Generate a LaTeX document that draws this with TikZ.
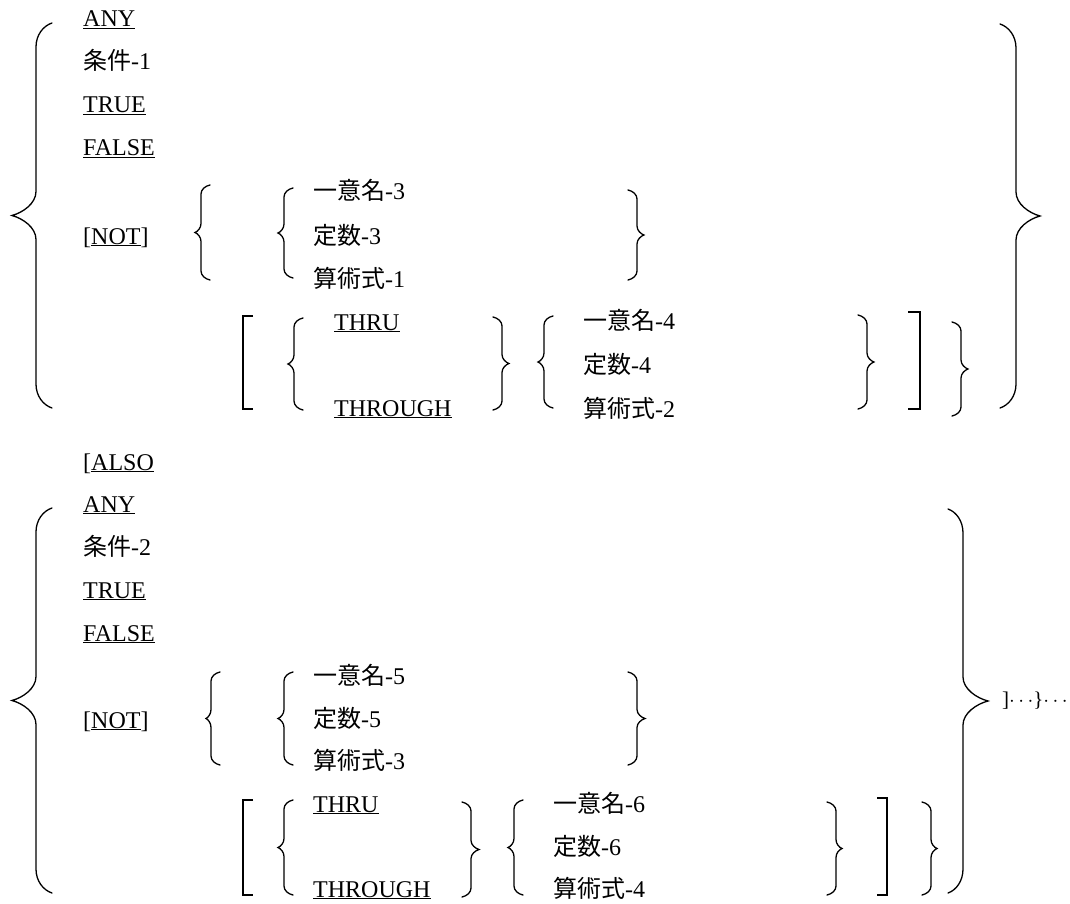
\documentclass[tikz,border=0pt]{standalone}
\usepackage{fontspec}
\setmainfont{Liberation Serif}
\newfontfamily\cjk{Noto Sans CJK JP}

% spine x, top y, bottom y, end offset, tip offset, bend
\newcommand{\curly}[6]{%
  \draw[brc] ({#1+(#4)},#2)
      .. controls ({#1+0.45*(#4)},{#2+0.12*#6}) and (#1,{#2+0.5*#6}) .. (#1,{#2+#6})
    -- (#1,{(#2+#3)/2-#6})
      .. controls (#1,{(#2+#3)/2-0.5*#6}) and ({#1-0.55*(#5)},{(#2+#3)/2-0.12*#6}) .. ({#1-(#5)},{(#2+#3)/2})
      .. controls ({#1-0.55*(#5)},{(#2+#3)/2+0.12*#6}) and (#1,{(#2+#3)/2+0.5*#6}) .. (#1,{(#2+#3)/2+#6})
    -- (#1,{#3-#6})
      .. controls (#1,{#3-0.5*#6}) and ({#1+0.45*(#4)},{#3-0.12*#6}) .. ({#1+(#4)},#3);}
\newcommand{\sqbr}[4]{%
  \draw[sqb] ({#1+(#4)},#2) -- (#1,#2) -- (#1,#3) -- ({#1+(#4)},#3);}

\begin{document}
\begin{tikzpicture}[x=1pt, y=-1pt,
  brc/.style={line width=1.3pt, line cap=round, line join=miter},
  sqb/.style={line width=1.8pt},
  lbl/.style={anchor=base west, inner sep=0pt, font=\fontsize{24}{28}\selectfont}]
\useasboundingbox (0,0) rectangle (1070,904);

\node[lbl] (any1) at (83,27) {\underline{ANY}};
\node[lbl] (cond1) at (83,70) {{\cjk 条件}-1};
\node[lbl] (true1) at (83,113) {\underline{TRUE}};
\node[lbl] (false1) at (83,156) {\underline{FALSE}};
\node[lbl] (not1) at (83,244) {[\underline{NOT}]};
\node[lbl] (uniq3) at (313,200) {{\cjk 一意名}-3};
\node[lbl] (const3) at (313,244) {{\cjk 定数}-3};
\node[lbl] (expr1) at (313,287) {{\cjk 算術式}-1};
\node[lbl] (thru1) at (334,330) {\underline{THRU}};
\node[lbl] (through1) at (334,416) {\underline{THROUGH}};
\node[lbl] (uniq4) at (583,329) {{\cjk 一意名}-4};
\node[lbl] (const4) at (583,373) {{\cjk 定数}-4};
\node[lbl] (expr2) at (583,417) {{\cjk 算術式}-2};

\curly{36}{23}{408}{16}{24}{24}
\curly{1016}{24}{408}{-16}{-24}{24}
\curly{201}{185}{280}{9}{6}{9}
\curly{284}{188}{278}{9}{6}{9}
\curly{637}{190}{280}{-9}{-7}{9}
\sqbr{243}{316}{409}{10}
\curly{294}{318}{410}{9}{6}{9}
\curly{502}{317}{410}{-9}{-7}{9}
\curly{544}{316}{408}{9}{6}{9}
\curly{867}{315}{409}{-9}{-7}{9}
\sqbr{920}{312}{409}{-12}
\curly{961}{322}{416}{-9}{-7}{9}

\node[lbl] (also) at (83,470) {[\underline{ALSO}};
\node[lbl] (any2) at (83,512) {\underline{ANY}};
\node[lbl] (cond2) at (83,555) {{\cjk 条件}-2};
\node[lbl] (true2) at (83,598) {\underline{TRUE}};
\node[lbl] (false2) at (83,641) {\underline{FALSE}};
\node[lbl] (not2) at (83,728) {[\underline{NOT}]};
\node[lbl] (uniq5) at (313,684) {{\cjk 一意名}-5};
\node[lbl] (const5) at (313,727) {{\cjk 定数}-5};
\node[lbl] (expr3) at (313,769) {{\cjk 算術式}-3};
\node[lbl] (thru2) at (313,812) {\underline{THRU}};
\node[lbl] (through2) at (313,897) {\underline{THROUGH}};
\node[lbl] (uniq6) at (553,812) {{\cjk 一意名}-6};
\node[lbl] (const6) at (553,855) {{\cjk 定数}-6};
\node[lbl] (expr4) at (553,897) {{\cjk 算術式}-4};
\node[lbl, font=\fontsize{21}{24}\selectfont] (more) at (1002,706) {]$\cdots$\}$\cdots$};

\curly{36}{508}{893}{16}{24}{24}
\curly{963}{509}{893}{-15}{-25}{24}
\curly{211}{672}{765}{9}{5}{9}
\curly{284}{672}{765}{9}{6}{9}
\curly{637}{672}{765}{-9}{-8}{9}
\sqbr{243}{800}{895}{10}
\curly{284}{800}{895}{9}{6}{9}
\curly{471}{802}{897}{-9}{-8}{9}
\curly{514}{800}{895}{9}{6}{9}
\curly{836}{802}{895}{-9}{-6}{9}
\sqbr{887}{798}{895}{-10}
\curly{931}{802}{895}{-9}{-6}{9}
\end{tikzpicture}
\end{document}
